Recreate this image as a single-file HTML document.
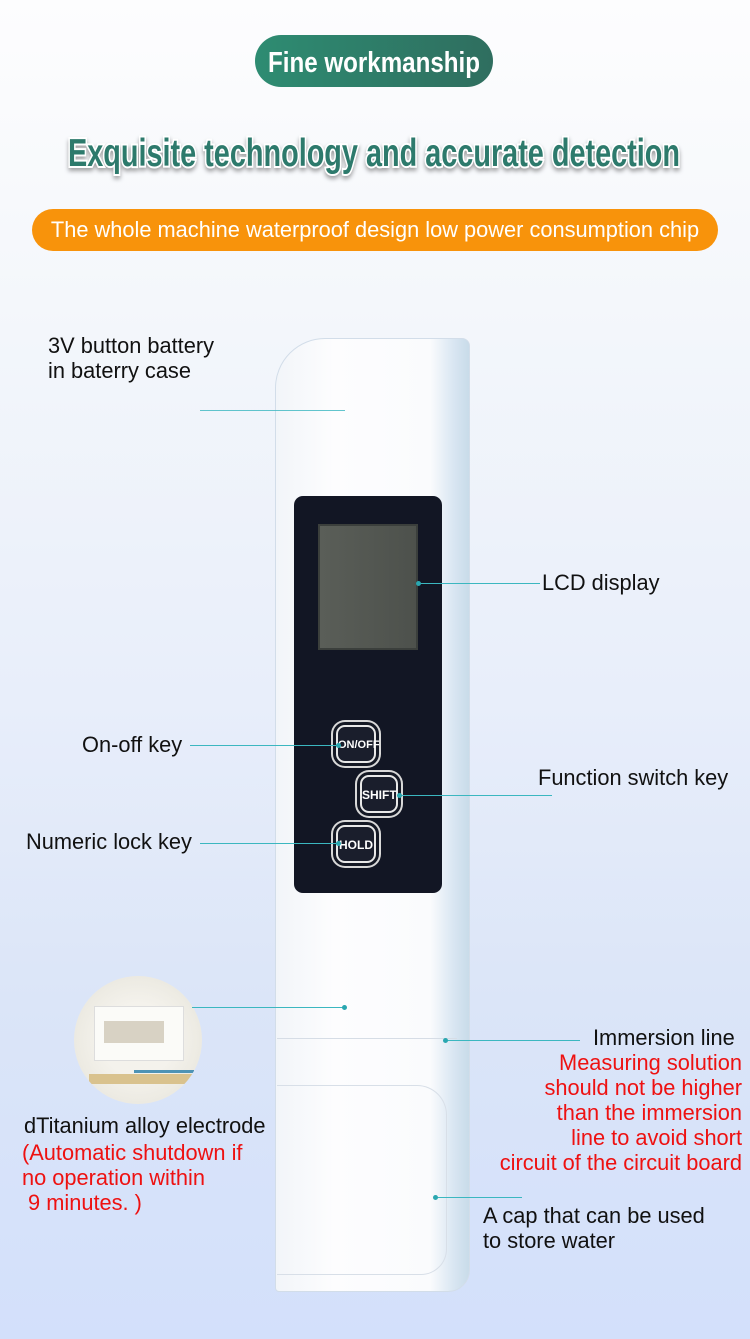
<!DOCTYPE html>
<html><head><meta charset="utf-8"><style>
*{margin:0;padding:0;box-sizing:border-box}
body{width:750px;height:1339px;position:relative;overflow:hidden;font-family:"Liberation Sans",sans-serif;
background:linear-gradient(180deg,#fdfdfe 0px,#f4f7fb 300px,#e8eefa 700px,#dbe5f8 1000px,#d3e0fb 1339px)}
.a{position:absolute}
.t{position:absolute;font-size:21.8px;line-height:25px;color:#111;white-space:nowrap}
.r{color:#ee1111}
.ln{position:absolute;height:1px;background:#3bb7c0}
.dot{position:absolute;width:5px;height:5px;border-radius:50%;background:#2aa7b0}
.btn{position:absolute;border:2px solid #e8e8e8;border-radius:9px;background:#1a1e2c;color:#fff;font-size:12px;font-weight:bold;text-align:center;box-shadow:0 0 0 3px #141824,0 0 0 5px #d8d8d8}
</style></head><body>

<div class="a" style="left:255px;top:35px;width:238px;height:52px;border-radius:26px;background:linear-gradient(90deg,#2e8c72,#2f6e5f)"></div>
<svg class="a" style="left:0;top:0" width="750" height="270">
<text x="374" y="72" text-anchor="middle" textLength="212" lengthAdjust="spacingAndGlyphs" font-family="Liberation Sans Narrow, Liberation Sans, sans-serif" font-weight="bold" font-size="29" fill="#fff">Fine workmanship</text>
<text x="374" y="166" text-anchor="middle" textLength="612" lengthAdjust="spacingAndGlyphs" font-family="Liberation Sans Narrow, Liberation Sans, sans-serif" font-weight="bold" font-size="39" fill="#2d7a6c" stroke="#fff" stroke-width="4" paint-order="stroke" style="filter:drop-shadow(0 3px 2px rgba(0,0,0,.35))">Exquisite technology and accurate detection</text>
</svg>
<div class="a" style="left:32px;top:209px;width:686px;height:42px;border-radius:21px;background:#f8930b"></div>
<div class="a" style="left:32px;top:209px;width:686px;height:42px;line-height:42px;text-align:center;color:#fff;font-size:21.8px">The whole machine waterproof design low power consumption chip</div>

<!-- pen -->
<div class="a" style="left:275px;top:338px;width:195px;height:954px;border-radius:50px 8px 22px 4px;background:linear-gradient(90deg,#f2f5f9,#fdfdfe 30%,#fafbfd 80%,#d9e6f2 92%,#c8dbe9);border:1px solid #d2dde9"></div>
<div class="a" style="left:277px;top:1038px;width:180px;height:1px;background:#d6dde6"></div>
<div class="a" style="left:277px;top:1085px;width:170px;height:190px;border:1px solid #d8dfe8;border-left:none;border-radius:0 30px 26px 0"></div>
<div class="a" style="left:294px;top:496px;width:148px;height:397px;border-radius:9px;background:#121624"></div>
<div class="a" style="left:318px;top:524px;width:100px;height:126px;background:linear-gradient(90deg,#5a5e58,#4d514c);border:2px solid #3b3f3c"></div>
<div class="btn" style="left:336px;top:725px;width:40px;height:38px;line-height:36px;font-size:11px">ON/OFF</div>
<div class="btn" style="left:360px;top:775px;width:38px;height:38px;line-height:36px">SHIFT</div>
<div class="btn" style="left:336px;top:825px;width:40px;height:38px;line-height:36px">HOLD</div>

<!-- circle -->
<div class="a" style="left:74px;top:976px;width:128px;height:128px;border-radius:50%;background:radial-gradient(circle,#f4f2ec 40%,#eceae2 70%,#e6ebf4 100%);overflow:hidden">
<div class="a" style="left:20px;top:30px;width:90px;height:55px;background:#fbfbf8;border:1px solid #ddd"></div>
<div class="a" style="left:30px;top:45px;width:60px;height:22px;background:#d8d2c4"></div>
<div class="a" style="left:15px;top:98px;width:110px;height:10px;background:#d9c28e"></div>
<div class="a" style="left:60px;top:94px;width:60px;height:3px;background:#4e93b5"></div>
</div>

<!-- lines -->
<div class="ln" style="left:200px;top:410px;width:145px;opacity:.8"></div>
<div class="ln" style="left:418px;top:583px;width:122px"></div><div class="dot" style="left:416px;top:581px"></div>
<div class="ln" style="left:190px;top:745px;width:148px"></div><div class="dot" style="left:336px;top:743px"></div>
<div class="ln" style="left:400px;top:795px;width:152px"></div><div class="dot" style="left:397px;top:793px"></div>
<div class="ln" style="left:200px;top:843px;width:138px"></div><div class="dot" style="left:336px;top:841px"></div>
<div class="ln" style="left:192px;top:1007px;width:153px"></div><div class="dot" style="left:342px;top:1005px"></div>
<div class="ln" style="left:445px;top:1040px;width:135px"></div><div class="dot" style="left:443px;top:1038px"></div>
<div class="ln" style="left:435px;top:1197px;width:87px"></div><div class="dot" style="left:433px;top:1195px"></div>

<!-- labels -->
<div class="t" style="left:48px;top:333px">3V button battery<br>in baterry case</div>
<div class="t" style="left:542px;top:570px">LCD display</div>
<div class="t" style="left:82px;top:732px">On-off key</div>
<div class="t" style="left:538px;top:765px">Function switch key</div>
<div class="t" style="left:26px;top:829px">Numeric lock key</div>
<div class="t" style="left:593px;top:1025px">Immersion line</div>
<div class="t r" style="right:8px;top:1050px;text-align:right">Measuring solution<br>should not be higher<br>than the immersion<br>line to avoid short<br>circuit of the circuit board</div>
<div class="t" style="left:24px;top:1113px">dTitanium alloy electrode</div>
<div class="t r" style="left:22px;top:1140px">(Automatic shutdown if<br>no operation within<br>&nbsp;9 minutes. )</div>
<div class="t" style="left:483px;top:1203px">A cap that can be used<br>to store water</div>
</body></html>
